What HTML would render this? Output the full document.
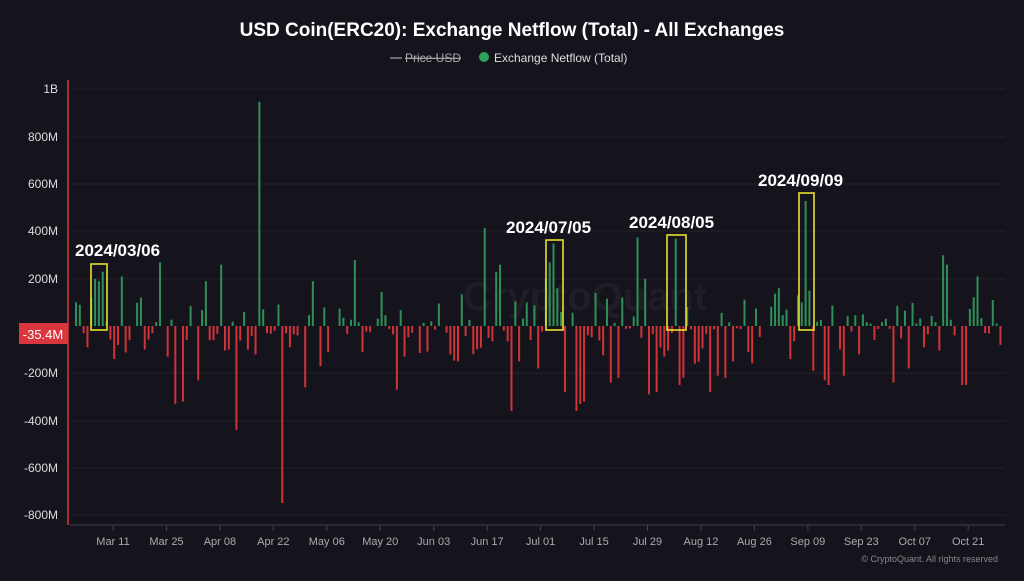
<!DOCTYPE html>
<html><head><meta charset="utf-8"><style>
body{margin:0;background:#15141c;width:1024px;height:576px;overflow:hidden;font-family:"Liberation Sans",sans-serif}
</style></head><body>
<svg id="s" width="1024" height="576" xmlns="http://www.w3.org/2000/svg">
<rect width="1024" height="576" fill="#15141c"/>
<text x="512" y="36" fill="#fff" font-size="19" font-weight="bold" text-anchor="middle">USD Coin(ERC20): Exchange Netflow (Total) - All Exchanges</text>
<line x1="390" y1="58" x2="402" y2="58" stroke="#888" stroke-width="1.5"/>
<text x="405" y="62" fill="#aaa" font-size="12" text-decoration="line-through">Price USD</text>
<circle cx="484" cy="57" r="5" fill="#2fa05a"/>
<text x="494" y="62" fill="#ddd" font-size="12">Exchange Netflow (Total)</text>
<g id="grid"></g>
<text x="585" y="310" fill="#1f1e26" font-size="40" font-weight="bold" text-anchor="middle">CryptoQuant</text>
<g id="bars"></g>
<line x1="68" y1="80" x2="68" y2="525" stroke="#d9363e" stroke-width="1.5"/>
<line x1="70" y1="525" x2="1005" y2="525" stroke="#333240" stroke-width="1.5"/>
<rect x="19" y="323" width="49" height="21" fill="#d9363e"/>
<text x="43" y="339" fill="#fff" font-size="13" text-anchor="middle">-35.4M</text>
<g id="ann" fill="none" stroke="#e8e030" stroke-width="1.6">
<rect x="91" y="264" width="16" height="66"/>
<rect x="546" y="240" width="17" height="90"/>
<rect x="667" y="235" width="19" height="95"/>
<rect x="799" y="193" width="15" height="137"/>
</g>
<g fill="#fff" font-size="17" font-weight="bold">
<text x="75" y="256">2024/03/06</text>
<text x="506" y="233">2024/07/05</text>
<text x="629" y="228">2024/08/05</text>
<text x="758" y="186">2024/09/09</text>
</g>
<text x="998" y="562" fill="#888" font-size="9" text-anchor="end">© CryptoQuant. All rights reserved</text>
</svg>
<script>
var NS="http://www.w3.org/2000/svg";
function el(p,t,a,txt){var e=document.createElementNS(NS,t);for(var k in a)e.setAttribute(k,a[k]);if(txt)e.textContent=txt;p.appendChild(e);return e;}
var g=document.getElementById('grid'),b=document.getElementById('bars');
var ys=[["1B",89],["800M",137],["600M",184],["400M",231],["200M",279],["-200M",373],["-400M",421],["-600M",468],["-800M",515]];
ys.forEach(function(v){el(g,'line',{x1:70,x2:1005,y1:v[1],y2:v[1],stroke:'#222129','stroke-width':1});
el(g,'text',{x:58,y:v[1]+4,fill:'#ddd','font-size':12,'text-anchor':'end'},v[0]);});
var xl=["Mar 11","Mar 25","Apr 08","Apr 22","May 06","May 20","Jun 03","Jun 17","Jul 01","Jul 15","Jul 29","Aug 12","Aug 26","Sep 09","Sep 23","Oct 07","Oct 21"];
xl.forEach(function(l,i){var x=113+i*53.45;el(g,'line',{x1:x,x2:x,y1:525,y2:531,stroke:'#444','stroke-width':1});
el(g,'text',{x:x,y:545,fill:'#aaa','font-size':11,'text-anchor':'middle'},l);});
var seed=7;function r(){seed=(seed*16807)%2147483647;return seed/2147483647;}
var spec={0:100,1:90,2:-30,3:-90,4:120,5:200,6:190,7:230,8:20,10:-140,12:210,14:-60,17:120,18:-100,20:-30,22:270,24:-130,26:-330,28:-320,29:-60,32:-230,34:190,36:-60,38:260,40:-100,42:-440,44:60,45:-100,47:-120,48:950,49:70,50:-30,52:-20,54:-750,56:-90,58:-40,60:-260,62:190,64:-170,66:-110,73:280,75:-110,84:-270,86:-130,100:-150,104:-120,107:415,108:-50,110:230,111:260,112:-20,114:-360,116:-150,118:100,121:-180,123:200,124:270,125:350,126:160,128:-280,131:-360,132:-330,133:-320,136:140,140:-240,142:-220,147:375,148:-50,149:200,150:-290,152:-280,154:-130,156:-30,157:370,158:-250,159:-220,160:80,162:-160,166:-280,168:-210,170:-220,172:-150,176:-110,184:160,187:-140,191:530,190:100,192:150,193:-190,196:-230,197:-250,201:-210,205:-120,209:-60,214:-240,218:-180,222:-90,227:300,228:260,230:-40,232:-250,233:-250,236:210,238:-30,240:110,242:-80};
var zero=326,k=47.2/200;
for(var i=0;i<243;i++){var v;if(spec[i]!==undefined)v=spec[i];else{var q=r();v=q<0.45?-(r()*r()*180+10):(q<0.58?0:r()*r()*170+10);}
if(v===0)continue;var x=75+i*3.82,h=Math.abs(v)*k;
el(b,'rect',{x:x,y:v>0?zero-h:zero,width:2,height:h,fill:v>0?'#2f8f58':'#cf3338'});}
</script>
</body></html>
